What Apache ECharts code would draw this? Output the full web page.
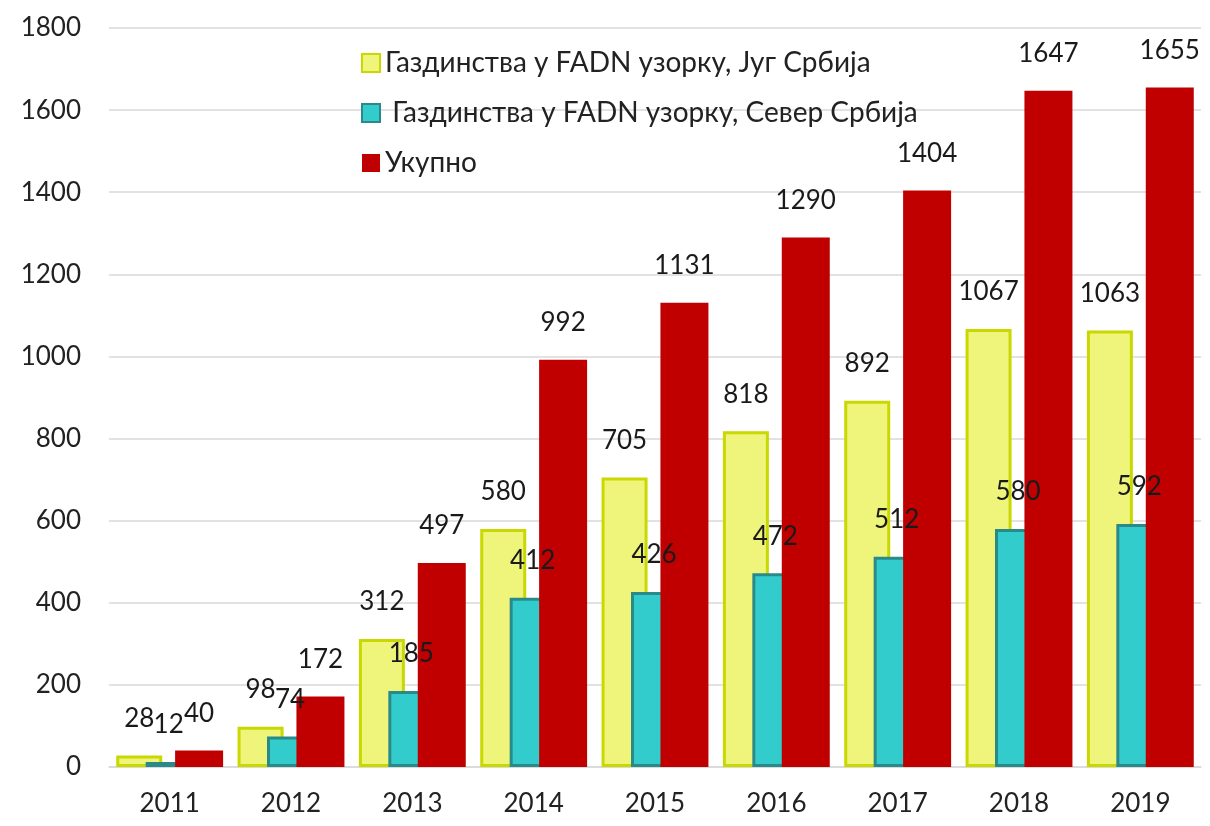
<!DOCTYPE html>
<html>
<head>
<meta charset="utf-8">
<script src="https://cdn.jsdelivr.net/npm/echarts@6/dist/echarts.min.js"></script>
<style>
  html, body { margin: 0; padding: 0; background: #fff; }
  #main { width: 1210px; height: 826px; }
</style>
</head>
<body>
<div id="main"></div>
<script>
const years = ['2011', '2012', '2013', '2014', '2015', '2016', '2017', '2018', '2019']
const south = [28, 98, 312, 580, 705, 818, 892, 1067, 1063]
const north = [12, 74, 185, 412, 426, 472, 512, 580, 592]
const total = [40, 172, 497, 992, 1131, 1290, 1404, 1647, 1655]
const names = [
  'Газдинства у FADN узорку, Југ Србија',
  ' Газдинства у FADN узорку, Север Србија',
  'Укупно'
]

const font = 'Lato, "Open Sans", sans-serif'
const chart = echarts.init(document.getElementById('main'))

const label = {
  show: true,
  position: 'top',
  distance: 24,
  fontSize: 26,
  fontFamily: font,
  color: '#1a1a1a'
}

const option = {
  animation: false,
  grid: { left: 109, right: 9, top: 28, bottom: 59 },
  legend: {
    orient: 'vertical',
    left: 356,
    top: 44,
    itemWidth: 18,
    itemHeight: 18,
    itemGap: 22,
    icon: 'rect',
    textStyle: { fontSize: 28, fontFamily: font, color: '#222' },
    data: names
  },
  xAxis: {
    type: 'category',
    data: years,
    axisTick: { show: false },
    axisLine: { lineStyle: { color: '#d9d9d9', width: 1.5 } },
    axisLabel: { fontSize: 26, fontFamily: font, color: '#222', margin: 24 }
  },
  yAxis: {
    type: 'value',
    min: 0,
    max: 1800,
    interval: 200,
    axisLabel: {
      fontSize: 26, fontFamily: font, color: '#222', margin: 28,
      formatter: v => String(v)
    },
    splitLine: { lineStyle: { color: '#d9d9d9', width: 1.5 } }
  },
  series: [
    {
      name: names[0],
      type: 'bar',
      data: south,
      barWidth: 46,
      barGap: '-36%',
      itemStyle: { color: '#eef57a', borderColor: '#c9d800', borderWidth: 3 },
      label: label
    },
    {
      name: names[1],
      type: 'bar',
      data: north,
      barWidth: 46,
      barGap: '-36%',
      itemStyle: { color: '#33cccc', borderColor: '#2a8a8a', borderWidth: 3 },
      label: label
    },
    {
      name: names[2],
      type: 'bar',
      data: total,
      barWidth: 48,
      barGap: '-36%',
      itemStyle: { color: '#c00000' },
      label: label
    }
  ]
}

option && chart.setOption(option)
</script>
</body>
</html>
